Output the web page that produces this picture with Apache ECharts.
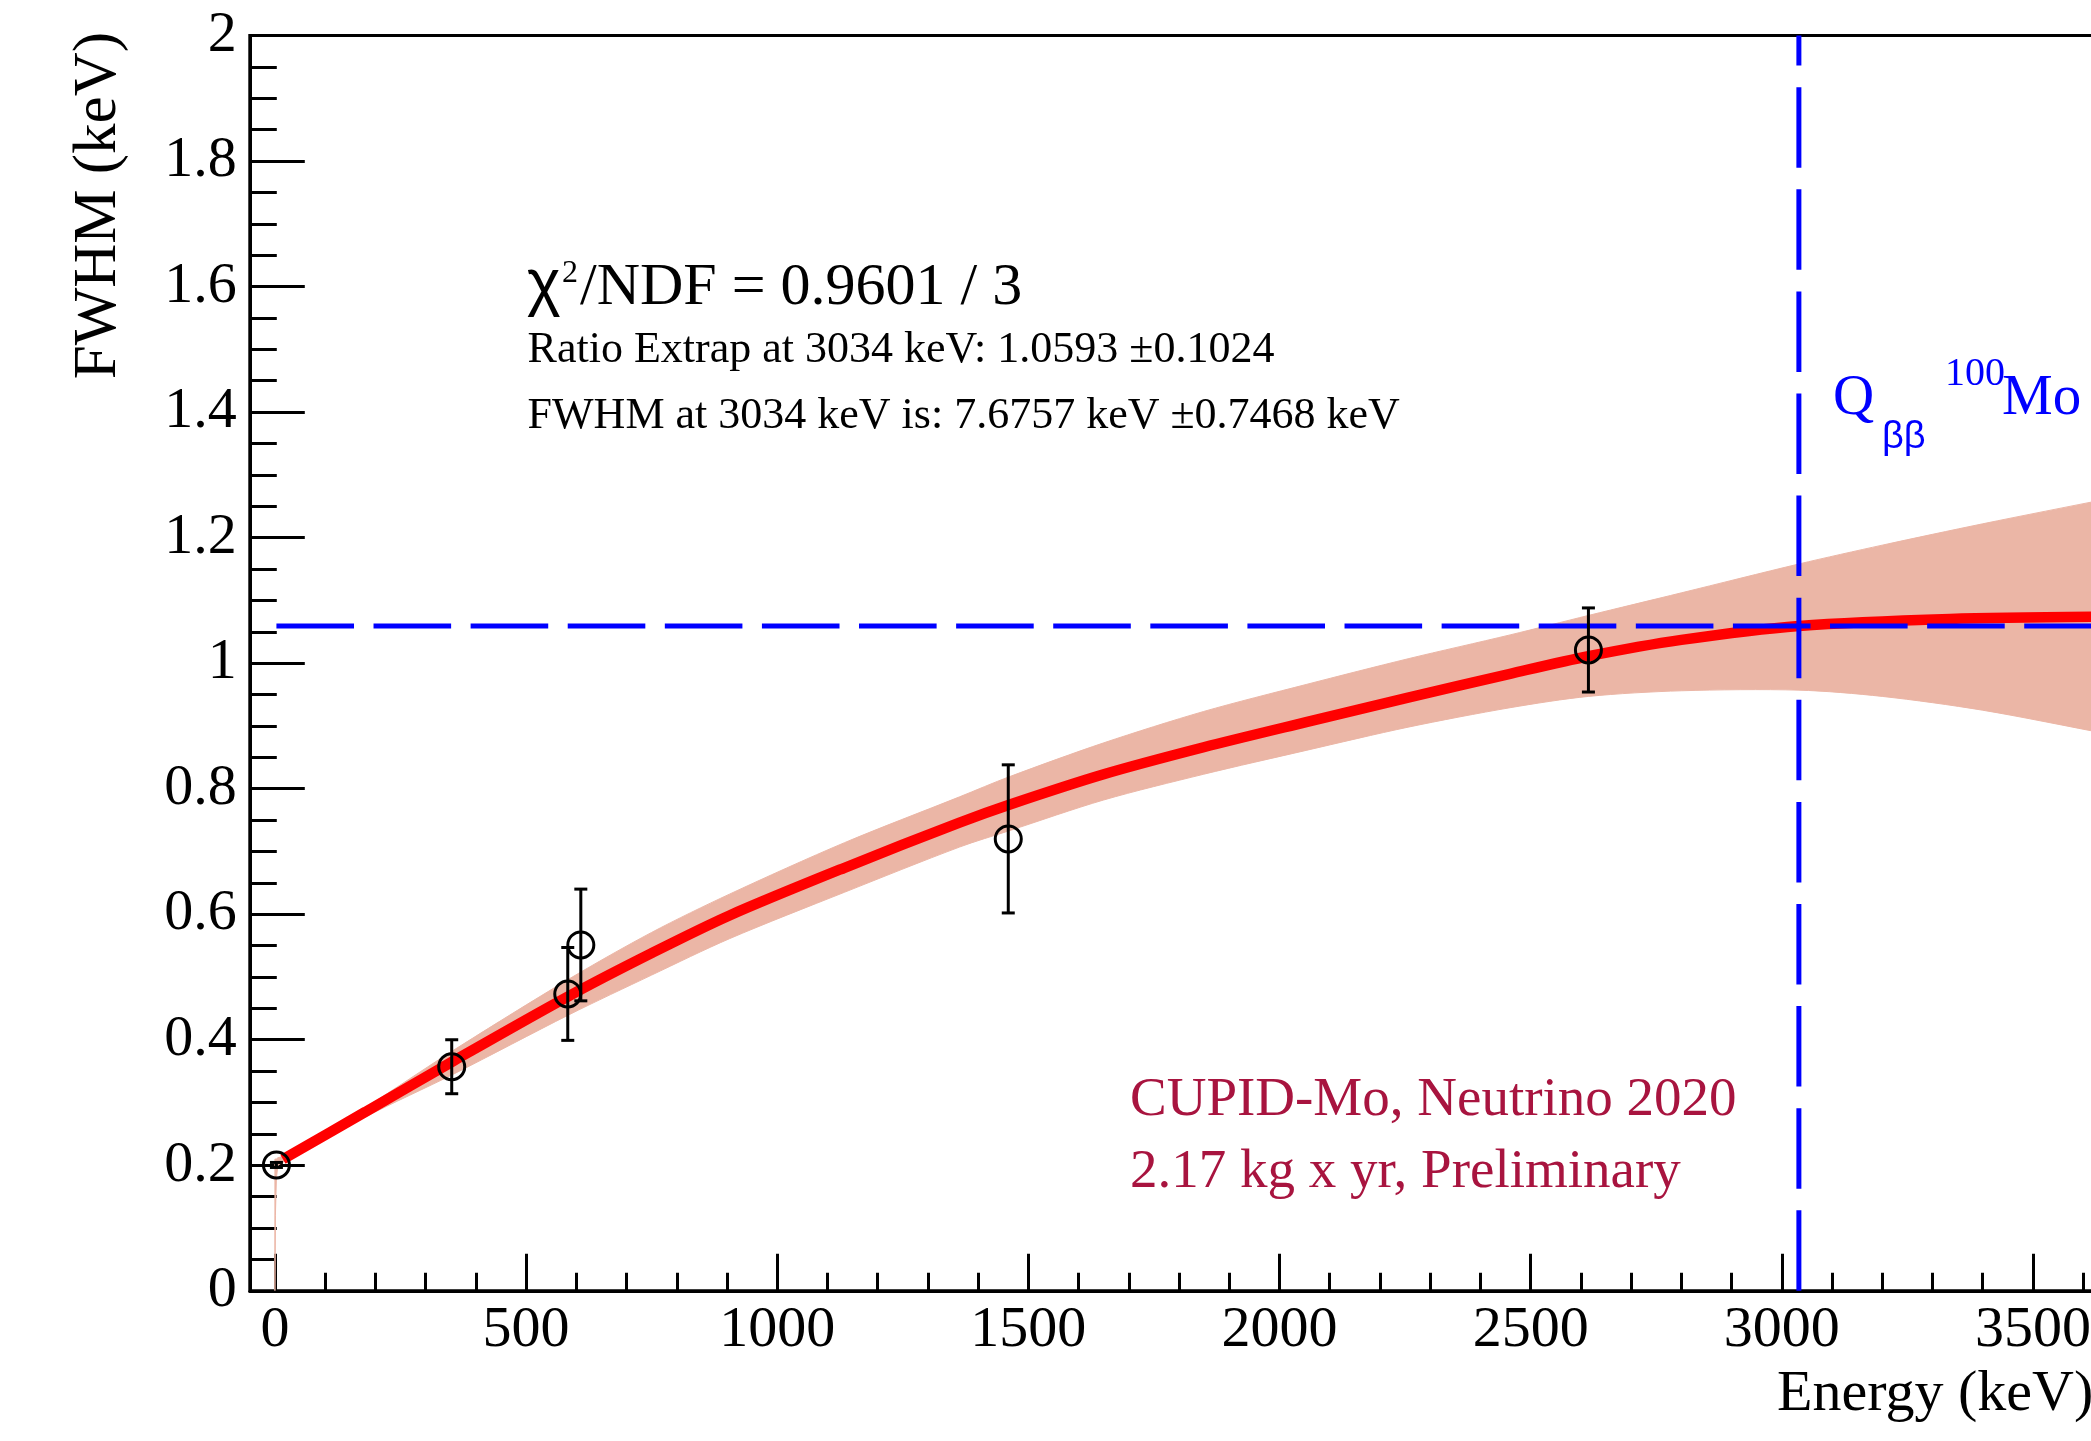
<!DOCTYPE html>
<html>
<head>
<meta charset="utf-8">
<script src="https://cdn.jsdelivr.net/npm/echarts@6/dist/echarts.min.js"></script>
<style>
html,body{margin:0;padding:0;background:#fff;}
#c{width:2091px;height:1441px;}
</style>
</head>
<body>
<div id="c"></div>
<script>
// ---- data ----
const pointEnergy = [3, 352, 583, 609, 1460, 2615];
const pointRatio  = [0.2005, 0.357, 0.473, 0.551, 0.720, 1.021];
const pointError  = [0.004, 0.043, 0.074, 0.089, 0.118, 0.067];

const fitEnergy = [16, 180, 355, 586, 750, 905, 1134, 1363, 1462, 1650, 1849, 2053, 2256, 2459, 2615, 2800, 3034, 3335, 3650];
const fitRatio  = [0.2095, 0.285, 0.366, 0.470, 0.538, 0.598, 0.674, 0.746, 0.7745, 0.823, 0.866, 0.906, 0.945, 0.983, 1.011, 1.037, 1.0593, 1.0705, 1.074];

const bandEnergy = [0, 1, 3, 6, 16, 180, 355, 586, 750, 905, 1134, 1363, 1462, 1650, 1849, 2053, 2256, 2459, 2615, 2800, 3034, 3200, 3400, 3650];
const bandUpper  = [0.21, 0.21, 0.21, 0.212, 0.214, 0.292, 0.383, 0.497, 0.571, 0.632, 0.714, 0.787, 0.819, 0.873, 0.923, 0.966, 1.007, 1.045, 1.076, 1.112, 1.158, 1.188, 1.222, 1.262];
const bandLower  = [0.0, 0.12, 0.18, 0.20, 0.205, 0.277, 0.345, 0.440, 0.503, 0.561, 0.635, 0.707, 0.733, 0.782, 0.823, 0.861, 0.898, 0.929, 0.947, 0.956, 0.957, 0.947, 0.925, 0.887];

const qbbEnergy = 3034;
const ratioAtQbb = 1.0593;
const refLineStart = 3;

const xMajorTicks = [0, 500, 1000, 1500, 2000, 2500, 3000, 3500];
const xMinorTicks = [100, 200, 300, 400, 600, 700, 800, 900, 1100, 1200, 1300, 1400, 1600, 1700, 1800, 1900, 2100, 2200, 2300, 2400, 2600, 2700, 2800, 2900, 3100, 3200, 3300, 3400, 3600];

const xRange = [-50, 3650];
const yRange = [0, 2];

// ---- styles ----
const SERIF = '"Liberation Serif", "Times New Roman", serif';
const SANS = '"Liberation Sans", Arial, sans-serif';
const BAND = '#EBB6A6';
const CRIMSON = '#A8143F';

const chart = echarts.init(document.getElementById('c'), null, {renderer: 'canvas'});

function textEl(x, baseline, text, size, family, color) {
  return {
    type: 'text',
    x: x,
    y: baseline - 0.3375 * size,
    silent: true,
    z: 100,
    style: {
      text: text,
      font: size + 'px ' + family,
      fill: color || '#000',
      align: 'left',
      verticalAlign: 'middle'
    }
  };
}

// band: thin sliver near zero (straight edges) and main part (smoothed edges, corners kept sharp)
const SPLIT = 4;

const option = {
  animation: false,
  backgroundColor: '#fff',
  grid: {
    left: 249.8, top: 35.5, width: 1858.5, height: 1255.3,
    show: true, borderColor: '#000', borderWidth: 3, backgroundColor: 'transparent',
    containLabel: false,
    outerBoundsMode: 'none'
  },
  xAxis: [{
    type: 'value', min: xRange[0], max: xRange[1],
    axisLine: {show: true, onZero: false, lineStyle: {color: '#000', width: 3}},
    axisTick: {show: true, inside: true, length: 37, customValues: xMajorTicks, lineStyle: {color: '#000', width: 3}},
    axisLabel: {show: true, customValues: xMajorTicks, fontFamily: SERIF, fontSize: 58, color: '#000', margin: 11,
      formatter: function (v) { return String(v); }},
    splitLine: {show: false}
  }, {
    type: 'value', min: xRange[0], max: xRange[1], position: 'bottom', offset: 0,
    axisLine: {show: false, onZero: false},
    axisTick: {show: true, inside: true, length: 18, customValues: xMinorTicks, lineStyle: {color: '#000', width: 3}},
    axisLabel: {show: false},
    splitLine: {show: false}
  }],
  yAxis: {
    type: 'value', min: yRange[0], max: yRange[1], interval: 0.2,
    axisLine: {show: true, onZero: false, lineStyle: {color: '#000', width: 3}},
    axisTick: {show: true, inside: true, length: 55, lineStyle: {color: '#000', width: 3}},
    minorTick: {show: true, splitNumber: 4, length: 27, lineStyle: {color: '#000', width: 3}},
    axisLabel: {
      fontFamily: SERIF, fontSize: 58, color: '#000', margin: 13,
      formatter: function (v) { return String(+v.toFixed(1)); }
    },
    splitLine: {show: false}
  },
  series: [
    {
      name: 'band', type: 'custom', z: 1, silent: true, clip: true,
      data: [[bandEnergy[0], bandLower[0]]],
      renderItem: function (params, api) {
        const n = bandEnergy.length;
        const sliver = [];
        for (let i = 0; i <= SPLIT; i++) sliver.push(api.coord([bandEnergy[i], bandUpper[i]]));
        for (let i = SPLIT; i >= 0; i--) sliver.push(api.coord([bandEnergy[i], bandLower[i]]));
        const main = [];
        main.push(api.coord([bandEnergy[SPLIT], bandUpper[SPLIT]]));
        for (let i = SPLIT; i < n; i++) main.push(api.coord([bandEnergy[i], bandUpper[i]]));
        main.push(api.coord([bandEnergy[n - 1], bandUpper[n - 1]]));
        main.push(api.coord([bandEnergy[n - 1], bandLower[n - 1]]));
        for (let i = n - 1; i >= SPLIT; i--) main.push(api.coord([bandEnergy[i], bandLower[i]]));
        main.push(api.coord([bandEnergy[SPLIT], bandLower[SPLIT]]));
        return {type: 'group', children: [
          {type: 'polygon', shape: {points: sliver}, style: {fill: BAND, stroke: BAND, lineWidth: 1}},
          {type: 'polygon', shape: {points: main, smooth: 0.3}, style: {fill: BAND, stroke: BAND, lineWidth: 1}}
        ]};
      }
    },
    {
      name: 'fit', type: 'line', z: 2, silent: true,
      data: fitEnergy.map((e, i) => [e, fitRatio[i]]),
      smooth: 0.3,
      showSymbol: false, symbol: 'none',
      lineStyle: {color: '#FF0000', width: 10.5, cap: 'butt'}
    },
    {
      name: 'ratioLine', type: 'line', z: 3, silent: true,
      data: [[refLineStart, ratioAtQbb], [xRange[1], ratioAtQbb]],
      showSymbol: false, symbol: 'none',
      lineStyle: {color: '#0000FF', width: 5, type: [77.6, 19.5], cap: 'butt'}
    },
    {
      name: 'qbbLine', type: 'line', z: 3, silent: true,
      data: [[qbbEnergy, yRange[0]], [qbbEnergy, yRange[1]]],
      showSymbol: false, symbol: 'none',
      lineStyle: {color: '#0000FF', width: 5, type: [80.5, 21.6], cap: 'butt'}
    },
    {
      name: 'points', type: 'custom', z: 4, silent: true, clip: false,
      data: pointEnergy.map((e, i) => [e, pointRatio[i], pointError[i]]),
      renderItem: function (params, api) {
        const x = api.value(0), y = api.value(1), err = api.value(2);
        const c = api.coord([x, y]);
        const t = api.coord([x, y + err]);
        const b = api.coord([x, y - err]);
        const cap = 6.5;
        const st = {stroke: '#000', lineWidth: 3, fill: null};
        return {type: 'group', children: [
          {type: 'line', shape: {x1: c[0], y1: t[1], x2: c[0], y2: b[1]}, style: st},
          {type: 'line', shape: {x1: c[0] - cap, y1: t[1], x2: c[0] + cap, y2: t[1]}, style: st},
          {type: 'line', shape: {x1: c[0] - cap, y1: b[1], x2: c[0] + cap, y2: b[1]}, style: st},
          {type: 'circle', shape: {cx: c[0], cy: c[1], r: 13}, style: {stroke: '#000', lineWidth: 3, fill: 'none'}}
        ]};
      }
    }
  ],
  graphic: [
    // y-axis title
    {
      type: 'text', x: 98.5, y: 32, rotation: Math.PI / 2, silent: true, z: 100,
      style: {text: 'FWHM (keV)', font: '61px ' + SERIF, fill: '#000', align: 'right', verticalAlign: 'middle'}
    },
    // x-axis title
    textEl(1777, 1414, 'Energy (keV)', 58, SERIF),
    // fit statistics
    textEl(527, 308, 'χ', 64, SANS),
    textEl(562, 284.7, '2', 32, SERIF),
    textEl(580, 308, '/NDF = 0.9601 / 3', 60, SERIF),
    textEl(527.6, 365.7, 'Ratio Extrap at 3034 keV: 1.0593 ±0.1024', 44, SERIF),
    textEl(527.6, 431.7, 'FWHM at 3034 keV is: 7.6757 keV ±0.7468 keV', 44, SERIF),
    // Q-value label
    textEl(1833, 418, 'Q', 57, SERIF, '#0000FF'),
    textEl(1882, 450, 'ββ', 38, SANS, '#0000FF'),
    textEl(1945, 388, '100', 40, SERIF, '#0000FF'),
    textEl(2002, 418, 'Mo', 57, SERIF, '#0000FF'),
    // experiment label
    textEl(1130, 1119, 'CUPID-Mo, Neutrino 2020', 55, SERIF, CRIMSON),
    textEl(1130, 1191, '2.17 kg x yr, Preliminary', 55, SERIF, CRIMSON)
  ]
};

chart.setOption(option);
</script>
</body>
</html>
